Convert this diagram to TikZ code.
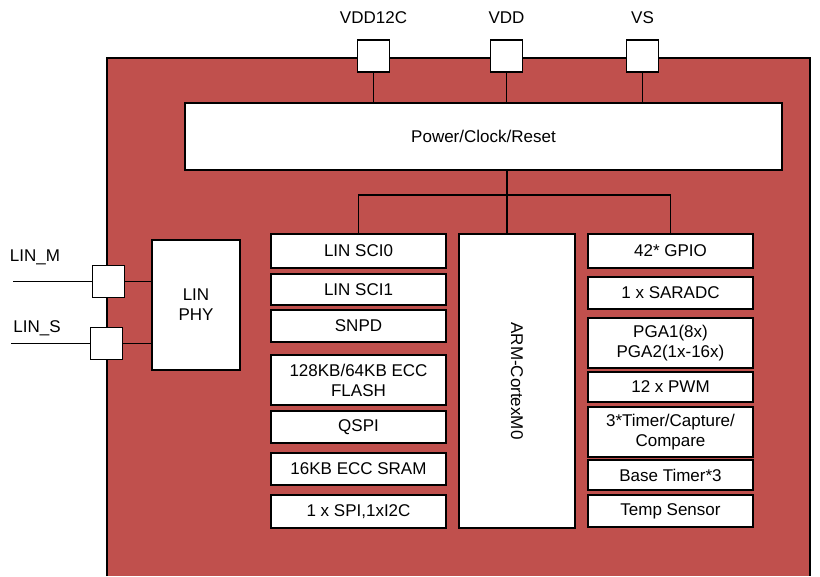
\documentclass[tikz,border=0pt]{standalone}
\usepackage{fontspec}
\setmainfont{Liberation Sans}
\definecolor{chipred}{HTML}{C0504D}
\begin{document}
\begin{tikzpicture}[x=0.5pt,y=-0.5pt,line width=0.8pt,
  blk/.style={draw=black,fill=white,font=\fontsize{8.5}{10}\selectfont,align=center,inner sep=0pt},
  pin/.style={draw=black,fill=white,minimum size=16pt,inner sep=0pt},
  lbl/.style={font=\fontsize{8.5}{10}\selectfont,inner sep=0pt}]
\useasboundingbox (0,0) rectangle (820,577);
% chip body
\fill[chipred] (107,58) rectangle (810,576);
\draw[line width=1.2pt] (107,576) -- (107,58) -- (810,58) -- (810,576);
% power
\node[blk,minimum width=298.5pt,minimum height=33.5pt] (pwr) at (483.5,136.5) {Power/Clock/Reset};
\foreach \n/\x/\t in {vddc/373.5/VDD12C,vdd/506.5/VDD,vs/642.5/VS}{
  \node[pin] (\n) at (\x,56) {};
  \node[lbl] at (\x,18) {\t};
  \draw (\n.south) -- (\n.south |- pwr.north);
}
% cpu
\node[blk,minimum width=58pt,minimum height=147pt] (arm) at (517,381) {};
\node[lbl,rotate=-90] at (arm.center) {ARM-CortexM0};
% left column
\foreach \n/\y/\h/\t in {sci0/251/17/LIN SCI0/UART0,sci1/289.5/15.5/LIN SCI1/UART1,snpd/326/16/SNPD,
  flash/380/25/{128KB/64KB ECC\\FLASH},qspi/427/16/QSPI,sram/469/16/16KB ECC SRAM,spi/511.5/16.5/{1 x SPI,1xI2C}}{
  \node[blk,minimum width=87.5pt,minimum height=\h pt] (\n) at (358.5,\y) {\t};
}
% right column
\foreach \n/\y/\h/\t in {gpio/251/17/42* GPIO,adc/293/16/1 x SARADC,pga/343/25/{PGA1(8x)\\PGA2(1x-16x)},
  pwm/387/15/12 x PWM,tmr/432/25/{3*Timer/Capture/\\Compare},base/475/15/Base Timer*3,temp/511/16/Temp Sensor}{
  \node[blk,minimum width=82.5pt,minimum height=\h pt] (\n) at (670.5,\y) {\t};
}
% bus
\coordinate (bus) at (507,195);
\draw (pwr.south -| bus) -- (bus);
\draw (sci0.north) |- (bus) -| (gpio.north);
\draw (bus) -- (arm.north -| bus);
% LIN
\node[blk,minimum width=44pt,minimum height=65pt] (phy) at (196,305) {LIN\\PHY};
\node[pin] (linm) at (108.5,281.5) {};
\node[pin] (lins) at (106.5,343.5) {};
\coordinate (lm) at (13,281.5);
\coordinate (ls) at (11,343.5);
\draw (lm) -- (linm.west);
\draw (ls) -- (lins.west);
\draw (linm.east) -- (linm.east -| phy.west);
\draw (lins.east) -- (lins.east -| phy.west);
\node[lbl] at (35,257) {LIN\_M};
\node[lbl] at (37,328) {LIN\_S};
\end{tikzpicture}
\end{document}
